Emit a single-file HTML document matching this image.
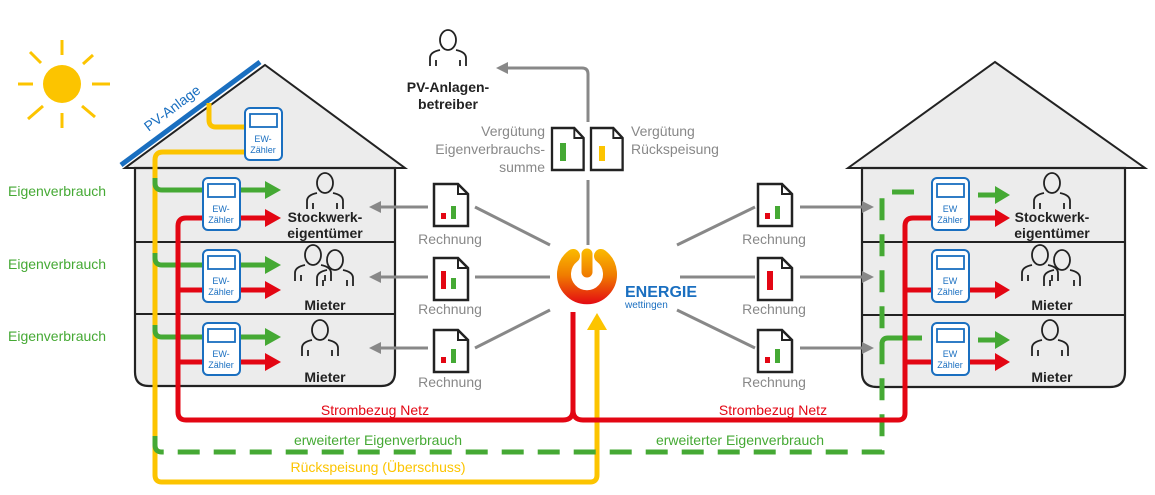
<!DOCTYPE html>
<html><head><meta charset="utf-8"><style>
html,body{margin:0;padding:0;background:#fff}
svg{display:block;font-family:"Liberation Sans",sans-serif}
</style></head><body>
<svg width="1155" height="495" viewBox="0 0 1155 495" xmlns="http://www.w3.org/2000/svg">
<defs>
<g id="doc"><path d="M0 0 H24 L34 10 V42 H0 Z" fill="#fff" stroke="#222" stroke-width="2.5"/><path d="M24 0 V10 H34" fill="none" stroke="#222" stroke-width="2"/></g>
<g id="meter"><rect x="0" y="0" width="37" height="52" rx="5" fill="#fff" stroke="#1a6fc0" stroke-width="2"/><rect x="5" y="6" width="27" height="13" fill="#fff" stroke="#1a6fc0" stroke-width="1.8"/></g>
<g id="person" fill="none" stroke="#222" stroke-width="1.8"><ellipse cx="0" cy="-10" rx="8" ry="10"/><path d="M-18 16 V8 Q-18 2 -8 0 M18 16 V8 Q18 2 8 0 M-12 16 V10 M12 16 V10"/></g>
<marker id="ga" markerWidth="4" markerHeight="4" refX="2" refY="2" orient="auto" markerUnits="strokeWidth"><path d="M0 0 L4 2 L0 4Z" fill="#888"/></marker>
<linearGradient id="lg" gradientUnits="userSpaceOnUse" x1="0" y1="245" x2="0" y2="305"><stop offset="0" stop-color="#fcc400"/><stop offset="0.5" stop-color="#f07d00"/><stop offset="1" stop-color="#e30613"/></linearGradient>
</defs>

<!-- sun -->
<g stroke="#fcc400" stroke-width="3"><circle cx="62" cy="84" r="19" fill="#fcc400" stroke="none"/>
<line x1="62" y1="40" x2="62" y2="55"/><line x1="62" y1="113" x2="62" y2="128"/><line x1="18" y1="84" x2="33" y2="84"/><line x1="92" y1="84" x2="110" y2="84"/>
<line x1="30" y1="52" x2="41" y2="63"/><line x1="83" y1="64" x2="93" y2="55"/><line x1="28" y1="119" x2="43" y2="106"/><line x1="82" y1="106" x2="95" y2="117"/></g>

<!-- left house -->
<path d="M125 168 L265 65 L405 168 Z" fill="#ececec" stroke="#222" stroke-width="2"/>
<path d="M135 168 H395 V372 Q395 386 381 386 H149 Q135 386 135 372 Z" fill="#ececec" stroke="#222" stroke-width="2.2"/>
<line x1="135" y1="242" x2="395" y2="242" stroke="#222" stroke-width="2"/>
<line x1="135" y1="314" x2="395" y2="314" stroke="#222" stroke-width="2"/>
<line x1="121" y1="165" x2="260" y2="62" stroke="#1a6fc0" stroke-width="5"/>
<text x="175" y="112" transform="rotate(-37 175 112)" fill="#1a6fc0" font-size="14" text-anchor="middle">PV-Anlage</text>

<!-- right house -->
<path d="M848 168 L995 62 L1145 168 Z" fill="#ececec" stroke="#222" stroke-width="2"/>
<path d="M862 168 H1125 V372 Q1125 387 1110 387 H877 Q862 387 862 372 Z" fill="#ececec" stroke="#222" stroke-width="2.2"/>
<line x1="862" y1="242" x2="1125" y2="242" stroke="#222" stroke-width="2"/>
<line x1="862" y1="315" x2="1125" y2="315" stroke="#222" stroke-width="2"/>

<!-- yellow -->
<path d="M209 103 V120 Q209 127 216 127 H246" fill="none" stroke="#fcc400" stroke-width="5"/>
<path d="M246 152 H163 Q155 152 155 160 V475 Q155 482 162 482 H590 Q597 482 597 475 V328" fill="none" stroke="#fcc400" stroke-width="5"/>
<path d="M587 330 L597 313 L607 330Z" fill="#fcc400"/>

<!-- green -->
<g fill="none" stroke="#45a934" stroke-width="5">
<path d="M155 178 V183 Q155 190 162 190 H265"/><path d="M155 253 V258 Q155 265 162 265 H265"/><path d="M155 325 V330 Q155 337 162 337 H265"/>
<path d="M155 436 V445 Q155 452 162 452 H882 V198 Q882 192 888 192 H922" stroke-dasharray="22 14"/>
<path d="M882 344 Q882 338 888 338 H922"/>
<path d="M978 195 H995"/><path d="M978 340 H995"/>
</g>
<g fill="#45a934"><path d="M265 181 L281 190 L265 199Z"/><path d="M265 256 L281 265 L265 274Z"/><path d="M265 328 L281 337 L265 346Z"/>
<path d="M995 186 L1010 195 L995 204Z"/><path d="M995 331 L1010 340 L995 349Z"/></g>

<!-- red -->
<g fill="none" stroke="#e30613" stroke-width="5">
<path d="M265 218 H186 Q178 218 178 226 V412 Q178 420 186 420 H563 Q573 420 573 410 V312"/>
<path d="M178 290 H265"/><path d="M178 362 H265"/>
<path d="M573 410 Q573 420 583 420 H898 Q905 420 905 413 V226 Q905 218 913 218 H995"/>
<path d="M905 290 H995"/><path d="M905 362 H995"/>
</g>
<g fill="#e30613"><path d="M265 209 L281 218 L265 227Z"/><path d="M265 281 L281 290 L265 299Z"/><path d="M265 353 L281 362 L265 371Z"/>
<path d="M995 209 L1010 218 L995 227Z"/><path d="M995 281 L1010 290 L995 299Z"/><path d="M995 353 L1010 362 L995 371Z"/></g>

<!-- meters -->
<g font-size="9" fill="#1a6fc0" text-anchor="middle">
<use href="#meter" x="245" y="108"/><text x="263" y="142">EW-</text><text x="263" y="153">Zähler</text>
<use href="#meter" x="203" y="178"/><text x="221" y="212">EW-</text><text x="221" y="223">Zähler</text>
<use href="#meter" x="203" y="250"/><text x="221" y="284">EW-</text><text x="221" y="295">Zähler</text>
<use href="#meter" x="203" y="323"/><text x="221" y="357">EW-</text><text x="221" y="368">Zähler</text>
<use href="#meter" x="932" y="178"/><text x="950" y="212">EW</text><text x="950" y="223">Zähler</text>
<use href="#meter" x="932" y="250"/><text x="950" y="284">EW</text><text x="950" y="295">Zähler</text>
<use href="#meter" x="932" y="323"/><text x="950" y="357">EW</text><text x="950" y="368">Zähler</text>
</g>

<!-- persons -->
<use href="#person" x="325" y="193"/><use href="#person" x="313" y="265"/><use href="#person" x="335" y="270"/><use href="#person" x="320" y="340"/>
<use href="#person" x="1052" y="193"/><use href="#person" x="1040" y="265"/><use href="#person" x="1062" y="270"/><use href="#person" x="1050" y="340"/>
<use href="#person" x="448" y="50"/>
<g font-size="14" fill="#222" text-anchor="middle" font-weight="bold">
<text x="325" y="222">Stockwerk-</text><text x="325" y="238">eigentümer</text>
<text x="325" y="310">Mieter</text><text x="325" y="382">Mieter</text>
<text x="1052" y="222">Stockwerk-</text><text x="1052" y="238">eigentümer</text>
<text x="1052" y="310">Mieter</text><text x="1052" y="382">Mieter</text>
<text x="448" y="92">PV-Anlagen-</text><text x="448" y="109">betreiber</text>
</g>

<!-- gray connectors -->
<g stroke="#888" stroke-width="3" fill="none">
<path d="M588 122 V74 Q588 68 582 68 H502" marker-end="url(#ga)"/>
<path d="M588 180 V245"/>
<path d="M428 207 H375" marker-end="url(#ga)"/><path d="M428 277 H375" marker-end="url(#ga)"/><path d="M428 348 H375" marker-end="url(#ga)"/>
<path d="M475 207 L550 245"/><path d="M475 277 H550"/><path d="M475 348 L550 310"/>
<path d="M677 245 L755 207"/><path d="M680 277 H755"/><path d="M677 310 L755 348"/>
<path d="M800 207 H868" marker-end="url(#ga)"/><path d="M800 277 H868" marker-end="url(#ga)"/><path d="M800 348 H868" marker-end="url(#ga)"/>
</g>

<!-- documents -->
<use href="#doc" x="434" y="184"/><rect x="441" y="213" width="5" height="6" fill="#e30613"/><rect x="451" y="206" width="5" height="13" fill="#45a934"/>
<use href="#doc" x="434" y="258"/><rect x="441" y="271" width="5" height="18" fill="#e30613"/><rect x="451" y="278" width="5" height="11" fill="#45a934"/>
<use href="#doc" x="434" y="330"/><rect x="441" y="357" width="5" height="6" fill="#e30613"/><rect x="451" y="349" width="5" height="14" fill="#45a934"/>
<use href="#doc" x="758" y="184"/><rect x="765" y="213" width="5" height="6" fill="#e30613"/><rect x="775" y="206" width="5" height="13" fill="#45a934"/>
<use href="#doc" x="758" y="258"/><rect x="767" y="271" width="6" height="19" fill="#e30613"/>
<use href="#doc" x="758" y="330"/><rect x="765" y="357" width="5" height="6" fill="#e30613"/><rect x="775" y="349" width="5" height="14" fill="#45a934"/>
<g transform="translate(552 128) scale(0.93 1)"><use href="#doc"/></g><rect x="560" y="143" width="6" height="18" fill="#45a934"/>
<g transform="translate(591 128) scale(0.93 1)"><use href="#doc"/></g><rect x="599" y="146" width="6" height="15" fill="#fcc400"/>

<g font-size="14" fill="#888">
<text x="450" y="244" text-anchor="middle">Rechnung</text><text x="450" y="314" text-anchor="middle">Rechnung</text><text x="450" y="387" text-anchor="middle">Rechnung</text>
<text x="774" y="244" text-anchor="middle">Rechnung</text><text x="774" y="314" text-anchor="middle">Rechnung</text><text x="774" y="387" text-anchor="middle">Rechnung</text>
<text x="545" y="136" text-anchor="end">Vergütung</text><text x="545" y="154" text-anchor="end">Eigenverbrauchs-</text><text x="545" y="172" text-anchor="end">summe</text>
<text x="631" y="136">Vergütung</text><text x="631" y="154">Rückspeisung</text>
</g>

<!-- logo -->
<path d="M573 256 A23 23 0 1 0 601 256" fill="none" stroke="url(#lg)" stroke-width="14" stroke-linecap="round"/>
<path d="M587 254 V272" fill="none" stroke="url(#lg)" stroke-width="11" stroke-linecap="round"/>
<text x="625" y="297" font-size="16" font-weight="bold" fill="#1a6fc0">ENERGIE</text>
<text x="625" y="308" font-size="10" fill="#1a6fc0">wettingen</text>

<!-- labels -->
<g font-size="14" fill="#45a934"><text x="8" y="196">Eigenverbrauch</text><text x="8" y="269">Eigenverbrauch</text><text x="8" y="341">Eigenverbrauch</text></g>
<g font-size="14" text-anchor="middle">
<text x="375" y="415" fill="#e30613">Strombezug Netz</text><text x="773" y="415" fill="#e30613">Strombezug Netz</text>
<text x="378" y="445" fill="#45a934">erweiterter Eigenverbrauch</text><text x="740" y="445" fill="#45a934">erweiterter Eigenverbrauch</text>
<text x="378" y="472" fill="#fcc400">Rückspeisung (Überschuss)</text>
</g>
</svg>
</body></html>
